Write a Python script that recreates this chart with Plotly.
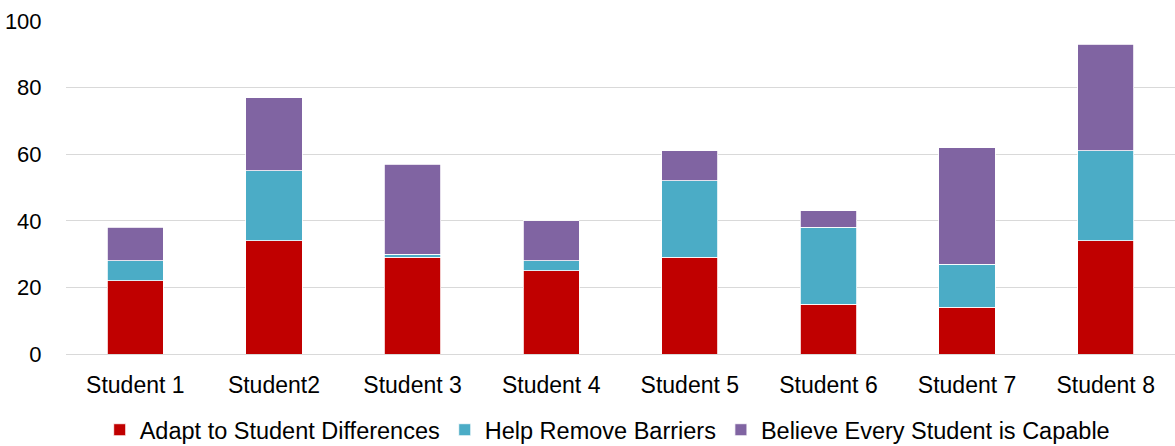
import plotly.graph_objects as go

categories = ["Student 1", "Student2", "Student 3", "Student 4", "Student 5", "Student 6", "Student 7", "Student 8"]
adapt = [22, 34, 29, 25, 29, 15, 14, 34]
barriers = [6, 21, 1, 3, 23, 23, 13, 27]
believe = [10, 22, 27, 12, 9, 5, 35, 32]

series = [
    ("Adapt to Student Differences", adapt, "#C00000"),
    ("Help Remove Barriers", barriers, "#4BACC6"),
    ("Believe Every Student is Capable", believe, "#8064A2"),
]

fig = go.Figure()
for name, vals, color in series:
    fig.add_trace(go.Bar(
        x=categories, y=vals, name=name,
        marker=dict(color=color, line=dict(color="white", width=0.8)),
    ))

fig.update_layout(
    barmode="stack",
    bargap=0.595,
    width=1175, height=446,
    margin=dict(l=66, r=0, t=21, b=92, autoexpand=False),
    paper_bgcolor="white", plot_bgcolor="white",
    font=dict(family="Liberation Sans, Arial, sans-serif", size=22, color="#000000"),
    legend=dict(orientation="h", x=0.488, xanchor="center", y=-0.162, yanchor="top",
                font=dict(size=23.5), itemwidth=30, traceorder="normal"),
    xaxis=dict(showgrid=False, showline=False, ticks="outside", ticklen=10,
               tickcolor="rgba(0,0,0,0)", tickfont=dict(size=23)),
    yaxis=dict(range=[0, 100], dtick=20, showgrid=True, gridcolor="#D9D9D9", gridwidth=1.3,
               zeroline=True, zerolinecolor="#D9D9D9", zerolinewidth=1.3,
               showline=False, ticks="outside", ticklen=19, tickcolor="rgba(0,0,0,0)",
               tickfont=dict(size=22)),
)

fig.write_html("out.html")
